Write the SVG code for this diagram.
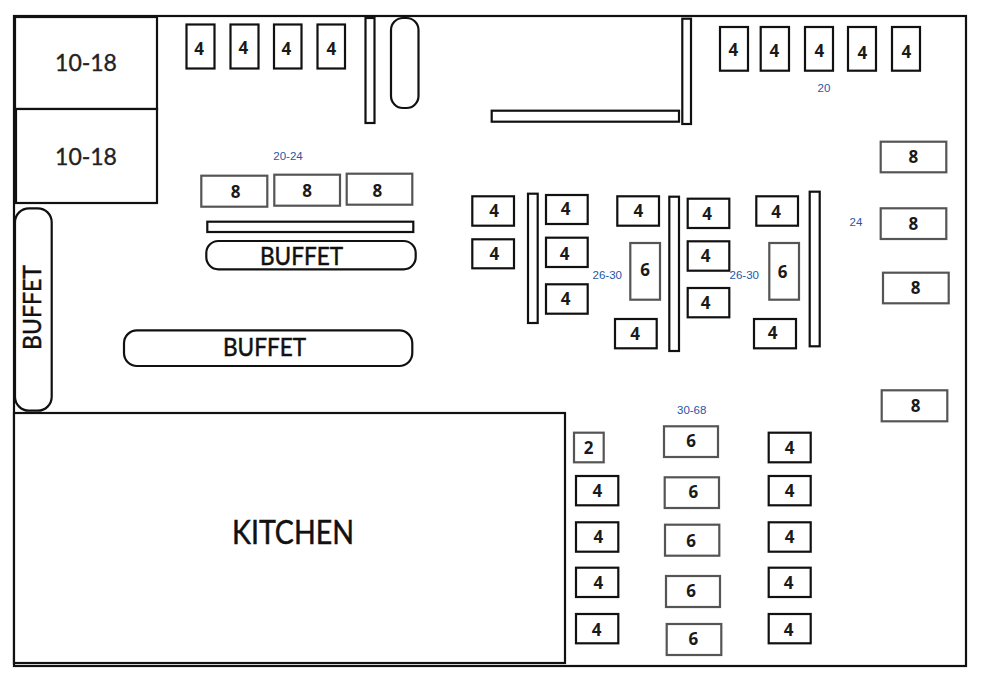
<svg xmlns="http://www.w3.org/2000/svg" width="982" height="686" viewBox="0 0 982 686">
<style>
rect{fill:#fff;stroke:#111;stroke-width:2.2}
.g{stroke:#555}
.n{font-family:"Noto Sans","DejaVu Sans",sans-serif;font-weight:700;font-size:17px;text-anchor:middle;fill:#1a1a1a}
.r{font-family:"Lato","Open Sans",sans-serif;font-size:23px;text-anchor:middle;fill:#222;stroke:#222;stroke-width:.35px}
.b{font-family:"Lato","Open Sans",sans-serif;font-size:25px;text-anchor:middle;fill:#111;stroke:#111;stroke-width:.5px}
.l{font-family:"Liberation Sans",Arial,sans-serif;font-size:11.5px;text-anchor:middle;fill:#2457a6}
</style>
<rect id="frame" x="14" y="16" width="952" height="650" stroke-width="2.5"/>
<g id="rooms">
<rect x="15" y="17" width="142" height="92"/><text class="r" x="86" y="70.5">10-18</text>
<rect x="16" y="109" width="141" height="94"/><text class="r" x="86" y="164.5">10-18</text>
<rect x="14" y="413" width="551" height="250"/><text class="b" x="293" y="544" style="font-size:33px" textLength="122" lengthAdjust="spacingAndGlyphs">KITCHEN</text>
</g>
<g id="walls">
<rect x="365.5" y="18" width="9" height="105"/>
<rect x="491.7" y="110.7" width="187.3" height="11"/>
<rect x="682.3" y="18.7" width="8.7" height="105.3"/>
<rect x="207.3" y="221.7" width="206" height="10.3"/>
<rect x="528" y="193.7" width="9.7" height="129.3"/>
<rect x="669.3" y="196.7" width="9.7" height="154.3"/>
<rect x="809.7" y="191.7" width="10" height="154.6"/>
</g>
<g id="buffets">
<rect id="pill-top" x="391" y="18" width="27.5" height="90" rx="12"/>
<rect x="206.3" y="241" width="209.4" height="28.3" rx="12"/><text class="b" x="301.5" y="264.5" textLength="83" lengthAdjust="spacingAndGlyphs">BUFFET</text>
<rect x="124" y="330.3" width="288.3" height="35.7" rx="13"/><text class="b" x="264.5" y="356" textLength="83" lengthAdjust="spacingAndGlyphs">BUFFET</text>
<rect x="15" y="208.3" width="36.7" height="202.4" rx="14"/><text class="b" transform="translate(41 307.5) rotate(-90)" textLength="85" lengthAdjust="spacingAndGlyphs">BUFFET</text>
</g>
<g id="tables-top">
<g id="t1"><rect x="186.5" y="24.5" width="28" height="44"/><text class="n" x="199" y="55">4</text></g>
<g id="t2"><rect x="230.5" y="24.5" width="28" height="44"/><text class="n" x="243.3" y="53.5">4</text></g>
<g id="t3"><rect x="274" y="24.5" width="27.5" height="44"/><text class="n" x="286.3" y="55">4</text></g>
<g id="t4"><rect x="317.5" y="24.5" width="27.5" height="44"/><text class="n" x="331.3" y="55">4</text></g>
<g id="t5"><rect x="720" y="27" width="28" height="43.7"/><text class="n" x="733.3" y="56">4</text></g>
<g id="t6"><rect x="760.7" y="27" width="28.3" height="43.7"/><text class="n" x="774.3" y="57">4</text></g>
<g id="t7"><rect x="805" y="27" width="28" height="43.7"/><text class="n" x="819.3" y="57">4</text></g>
<g id="t8"><rect x="848" y="27" width="28" height="43.7"/><text class="n" x="862.3" y="58.5">4</text></g>
<g id="t9"><rect x="892" y="27" width="28" height="43.7"/><text class="n" x="906.3" y="58">4</text></g>
</g>
<g id="tables-eight">
<g id="t10"><rect class="g" x="201.3" y="175.7" width="66" height="31"/><text class="n" x="235.7" y="198.3">8</text></g>
<g id="t11"><rect class="g" x="274.3" y="174.7" width="65.7" height="31"/><text class="n" x="307" y="197">8</text></g>
<g id="t12"><rect class="g" x="346.7" y="173.7" width="65.6" height="31"/><text class="n" x="377.3" y="197">8</text></g>
<g id="t13"><rect class="g" x="880.7" y="141.7" width="65.6" height="30.6"/><text class="n" x="913.3" y="163">8</text></g>
<g id="t14"><rect class="g" x="880.7" y="208.3" width="65.6" height="30.7"/><text class="n" x="913.3" y="229.7">8</text></g>
<g id="t15"><rect class="g" x="883" y="272.7" width="65.7" height="30.6"/><text class="n" x="915.7" y="294">8</text></g>
<g id="t16"><rect class="g" x="881.7" y="390.3" width="65.6" height="31"/><text class="n" x="915.7" y="412">8</text></g>
</g>
<g id="tables-middle">
<g id="t17"><rect x="472.3" y="196.3" width="41.7" height="29.4"/><text class="n" x="494" y="217.3">4</text></g>
<g id="t18"><rect x="472.3" y="239.3" width="41.7" height="29"/><text class="n" x="494.3" y="260">4</text></g>
<g id="t19"><rect x="546" y="195" width="41.7" height="29"/><text class="n" x="565.7" y="215">4</text></g>
<g id="t20"><rect x="546" y="237.7" width="41.7" height="29.3"/><text class="n" x="564.7" y="260">4</text></g>
<g id="t21"><rect x="546" y="284.3" width="41.7" height="29.4"/><text class="n" x="565.7" y="305">4</text></g>
<g id="t22"><rect x="617.3" y="196.3" width="41.7" height="29.4"/><text class="n" x="638.3" y="217">4</text></g>
<g id="t23"><rect class="g" x="630.3" y="243" width="29.7" height="56.7"/><text class="n" x="645" y="276">6</text></g>
<g id="t24"><rect x="615" y="319" width="41.7" height="29.3"/><text class="n" x="635" y="340">4</text></g>
<g id="t25"><rect x="687.7" y="198.7" width="41.6" height="29.3"/><text class="n" x="707" y="219.5">4</text></g>
<g id="t26"><rect x="687.7" y="241.3" width="41.6" height="29.4"/><text class="n" x="705.7" y="262">4</text></g>
<g id="t27"><rect x="687.7" y="288" width="41.6" height="29.3"/><text class="n" x="705.7" y="308.7">4</text></g>
<g id="t28"><rect x="756.3" y="196.3" width="41.7" height="29.4"/><text class="n" x="776" y="217.7">4</text></g>
<g id="t29"><rect class="g" x="769.3" y="243" width="29.7" height="56.7"/><text class="n" x="782.7" y="277.7">6</text></g>
<g id="t30"><rect x="754" y="319" width="42" height="29.3"/><text class="n" x="772.7" y="338.7">4</text></g>
</g>
<g id="tables-bottom">
<g id="t31"><rect class="g" x="574" y="432.7" width="29.7" height="29.6"/><text class="n" x="588.7" y="454">2</text></g>
<g id="t32"><rect x="576" y="476" width="42.3" height="29.3"/><text class="n" x="597.3" y="497.3">4</text></g>
<g id="t33"><rect x="576" y="522.3" width="42.3" height="29.4"/><text class="n" x="598.3" y="543.3">4</text></g>
<g id="t34"><rect x="576" y="567.7" width="42.3" height="29.3"/><text class="n" x="598.3" y="589.3">4</text></g>
<g id="t35"><rect x="576" y="614" width="42.3" height="29.3"/><text class="n" x="596.7" y="636">4</text></g>
<g id="t36"><rect class="g" x="664" y="426.3" width="54" height="30.7"/><text class="n" x="691" y="446.7">6</text></g>
<g id="t37"><rect class="g" x="664.7" y="477.3" width="54.3" height="30.7"/><text class="n" x="693.3" y="497.7">6</text></g>
<g id="t38"><rect class="g" x="665" y="524.7" width="54.3" height="31"/><text class="n" x="691" y="546.7">6</text></g>
<g id="t39"><rect class="g" x="666" y="576" width="54" height="31"/><text class="n" x="691" y="597.3">6</text></g>
<g id="t40"><rect class="g" x="666.7" y="624" width="54.6" height="31"/><text class="n" x="693.3" y="645">6</text></g>
<g id="t41"><rect x="768.7" y="432.7" width="42" height="29.6"/><text class="n" x="789.7" y="454">4</text></g>
<g id="t42"><rect x="768.7" y="476" width="42" height="29.3"/><text class="n" x="789.7" y="497.3">4</text></g>
<g id="t43"><rect x="768.7" y="522.3" width="42" height="29.4"/><text class="n" x="789.7" y="543.3">4</text></g>
<g id="t44"><rect x="768.7" y="567.7" width="42" height="29.3"/><text class="n" x="788.7" y="589.3">4</text></g>
<g id="t45"><rect x="768.7" y="614" width="42" height="29.3"/><text class="n" x="788.7" y="636">4</text></g>
</g>
<g id="labels">
<text class="l" x="288" y="160">20-24</text>
<text class="l" x="824" y="92">20</text>
<text class="l" x="856" y="226">24</text>
<text class="l" x="607.3" y="279">26-30</text>
<text class="l" x="744.3" y="279">26-30</text>
<text class="l" x="691.7" y="414">30-68</text>
</g>
</svg>
